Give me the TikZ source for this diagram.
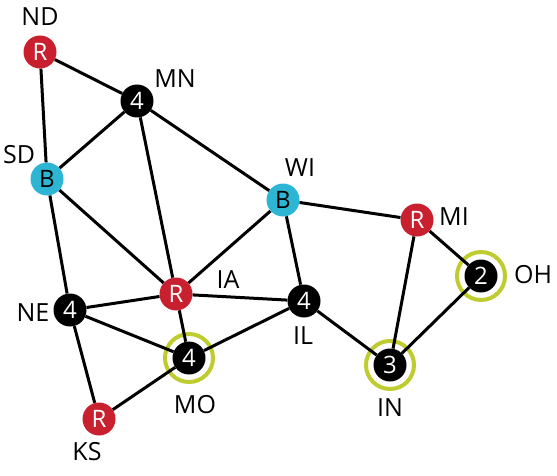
\documentclass[tikz,border=0pt]{standalone}
\usepackage{fontspec}
\setmainfont{Open Sans}
\usetikzlibrary{positioning}
\definecolor{partyred}{HTML}{C8202F}
\definecolor{swingblue}{HTML}{2DB6D4}
\definecolor{ringgreen}{HTML}{BFCC30}

\begin{document}
\begin{tikzpicture}[x=1pt,y=-1pt,
	state/.style={circle,minimum size=33pt,inner sep=0pt,font=\fontsize{24}{28}\selectfont},
	rstate/.style={state,fill=partyred,text=white},
	bstate/.style={state,fill=swingblue,text=black},
	nstate/.style={state,fill=black,text=white},
	tag/.style={inner sep=0pt,font=\fontsize{25}{30}\selectfont},
	link/.style={line width=3pt},
	ring/.style={draw=ringgreen,line width=4pt}]
			%%%%% START %%%%%
			
			\useasboundingbox (0,0) rectangle (557,476);
			
			\node[rstate] (ND) at (40, 52) {R};
			\node[nstate] (MN) at (137, 101) {4};
			\node[bstate] (SD) at (47, 179) {B};
			\node[bstate] (WI) at (283, 200) {B};
			\node[rstate] (MI) at (417, 220) {R};
			\node[nstate] (OH) at (481, 276) {2};
			\node[rstate] (IA) at (176, 294) {R};
			\node[nstate] (NE) at (70, 310) {4};
			\node[nstate] (IL) at (304, 301) {4};
			\node[nstate] (MO) at (189, 358) {4};
			\node[nstate] (IN) at (390, 365) {3};
			\node[rstate] (KS) at (99, 419) {R};
			
			\draw[ring] (MO) circle (24pt);
			\draw[ring] (IN) circle (24pt);
			\draw[ring] (OH) circle (24pt);
			
			\draw[link] (ND) -- (MN);
			\draw[link] (ND) -- (SD);
			\draw[link] (MN) -- (SD);
			\draw[link] (MN) -- (IA);
			\draw[link] (MN) -- (WI);
			\draw[link] (SD) -- (IA);
			\draw[link] (SD) -- (NE);
			\draw[link] (WI) -- (IA);
			\draw[link] (WI) -- (MI);
			\draw[link] (WI) -- (IL);
			\draw[link] (IA) -- (NE);
			\draw[link] (IA) -- (IL);
			\draw[link] (IA) -- (MO);
			\draw[link] (NE) -- (MO);
			\draw[link] (NE) -- (KS);
			\draw[link] (KS) -- (MO);
			\draw[link] (MO) -- (IL);
			\draw[link] (IL) -- (IN);
			\draw[link] (MI) -- (IN);
			\draw[link] (MI) -- (OH);
			\draw[link] (OH) -- (IN);
			
			\node[tag] (tND) at (40, 17) {ND};
			\node[tag] (tMN) at (175, 79) {MN};
			\node[tag] (tSD) at (19, 155) {SD};
			\node[tag] (tWI) at (300, 168) {WI};
			\node[tag] (tMI) at (454, 217) {MI};
			\node[tag] (tOH) at (533, 275) {OH};
			\node[tag] (tIA) at (228, 280) {IA};
			\node[tag] (tNE) at (33, 313) {NE};
			\node[tag] (tIL) at (303, 336) {IL};
			\node[tag] (tMO) at (195, 405) {MO};
			\node[tag] (tIN) at (390, 408) {IN};
			\node[tag] (tKS) at (87, 452) {KS};
			
			%%%%% END %%%%%
		\end{tikzpicture}
\end{document}
